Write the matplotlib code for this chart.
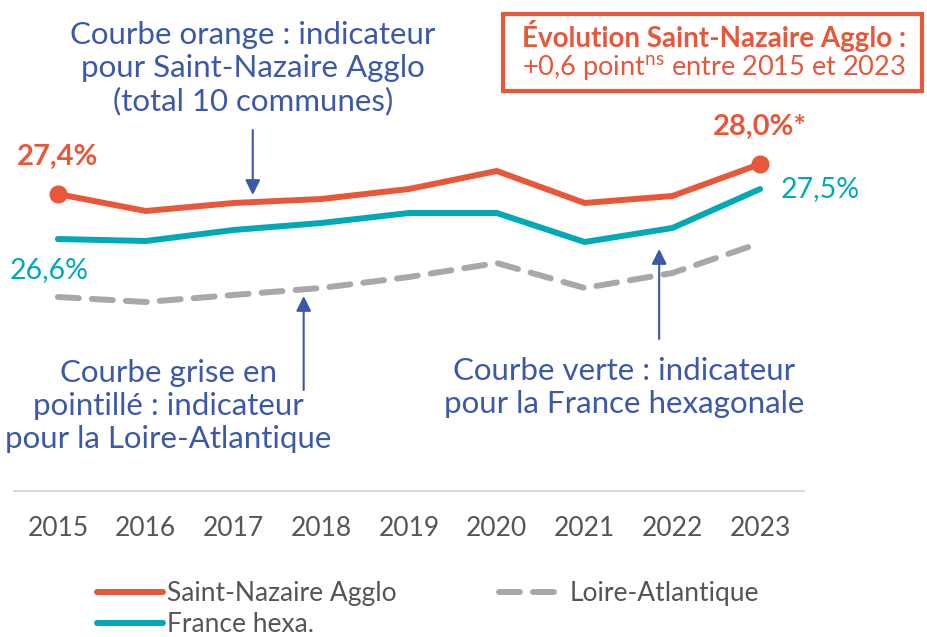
import matplotlib.pyplot as plt
from matplotlib.patches import Rectangle

plt.rcParams['font.family'] = ['Lato', 'DejaVu Sans']

years = [2015, 2016, 2017, 2018, 2019, 2020, 2021, 2022, 2023]
saint_nazaire = [27.4, 27.06, 27.22, 27.3, 27.5, 27.86, 27.22, 27.36, 28.0]
france = [26.5, 26.46, 26.68, 26.82, 27.02, 27.02, 26.44, 26.72, 27.5]
loire_atl = [25.34, 25.24, 25.38, 25.52, 25.74, 26.02, 25.52, 25.82, 26.42]

orange = '#E8573A'
teal = '#00A9B6'
grey = '#A8A8A8'
blue = '#3C58A8'
txt = '#555555'

fig = plt.figure(figsize=(9.28, 6.37), dpi=100)
ax = fig.add_axes([14/928, 146/637, 790/928, 491/637])

l1, = ax.plot(years, saint_nazaire, color=orange, lw=4.3, solid_capstyle='round', zorder=3)
ax.plot([years[0], years[-1]], [saint_nazaire[0], saint_nazaire[-1]], 'o', color=orange, ms=12, zorder=4)
l2, = ax.plot(years, france, color=teal, lw=4.3, solid_capstyle='round', zorder=3)
l3, = ax.plot(years, loire_atl, color=grey, lw=4.3, ls=(0, (3.5, 2.2)), dash_capstyle='round', zorder=2)

ax.set_xlim(2014.5, 2023.5)
ax.set_ylim(21.46, 31.28)
for s in ['top', 'left', 'right']:
    ax.spines[s].set_visible(False)
ax.spines['bottom'].set_color('#D9D9D9')
ax.spines['bottom'].set_linewidth(1.5)
ax.set_yticks([])
ax.set_xticks(years)
ax.tick_params(axis='x', length=0, pad=18, labelsize=19, labelcolor=txt)

# value labels
ax.text(2015, 28.14, '27,4%', color=orange, fontsize=21, fontweight='bold', ha='center', va='center')
ax.text(2023, 28.74, '28,0%*', color=orange, fontsize=21, fontweight='bold', ha='center', va='center')
ax.text(2023.68, 27.5, '27,5%', color=teal, fontsize=20.5, ha='center', va='center')
ax.text(2014.9, 25.88, '26,6%', color=teal, fontsize=20.5, ha='center', va='center')

# annotations
ax.text(2017.22, 29.92, 'Courbe orange : indicateur\npour Saint-Nazaire Agglo\n(total 10 communes)',
        color=blue, fontsize=22.5, ha='center', va='center', linespacing=1.22)
ax.text(2016.26, 23.16, 'Courbe grise en\npointillé : indicateur\npour la Loire-Atlantique',
        color=blue, fontsize=22.5, ha='center', va='center', linespacing=1.22)
ax.text(2021.45, 23.53, 'Courbe verte : indicateur\npour la France hexagonale',
        color=blue, fontsize=22.5, ha='center', va='center', linespacing=1.22)

arrow = dict(arrowstyle='-|>,head_width=0.45,head_length=0.9', color=blue, lw=1.5,
             shrinkA=0, shrinkB=0)
ax.annotate('', xy=(2017.22, 27.38), xytext=(2017.22, 28.68), arrowprops=arrow)
ax.annotate('', xy=(2017.8, 25.36), xytext=(2017.8, 23.48), arrowprops=arrow)
ax.annotate('', xy=(2021.85, 26.3), xytext=(2021.85, 24.5), arrowprops=arrow)

# top-right box
fig.patches.append(Rectangle((503/928, 1 - 91/637), 419/928, 77/637, transform=fig.transFigure,
                             fc='white', ec=orange, lw=3))
fig.text(714/928, 1 - 36/637, 'Évolution Saint-Nazaire Agglo :', color=orange, fontsize=20,
         fontweight='bold', ha='center', va='center')
fig.text(714/928, 1 - 68/637, r'+0,6 point$^{\mathregular{ns}}$ entre 2015 et 2023', color=orange,
         fontsize=19.5, ha='center', va='center')

fig.legend([l1, l2, l3], ['Saint-Nazaire Agglo', 'France hexa.', 'Loire-Atlantique'],
           loc='upper left', bbox_to_anchor=(97/928, 1 - 581/637), ncol=2, frameon=False,
           fontsize=19, labelcolor=txt, handlelength=2.5, handletextpad=0.15,
           columnspacing=3.9, labelspacing=0.22, borderpad=0, borderaxespad=0)

fig.savefig('out.png', dpi=100)
